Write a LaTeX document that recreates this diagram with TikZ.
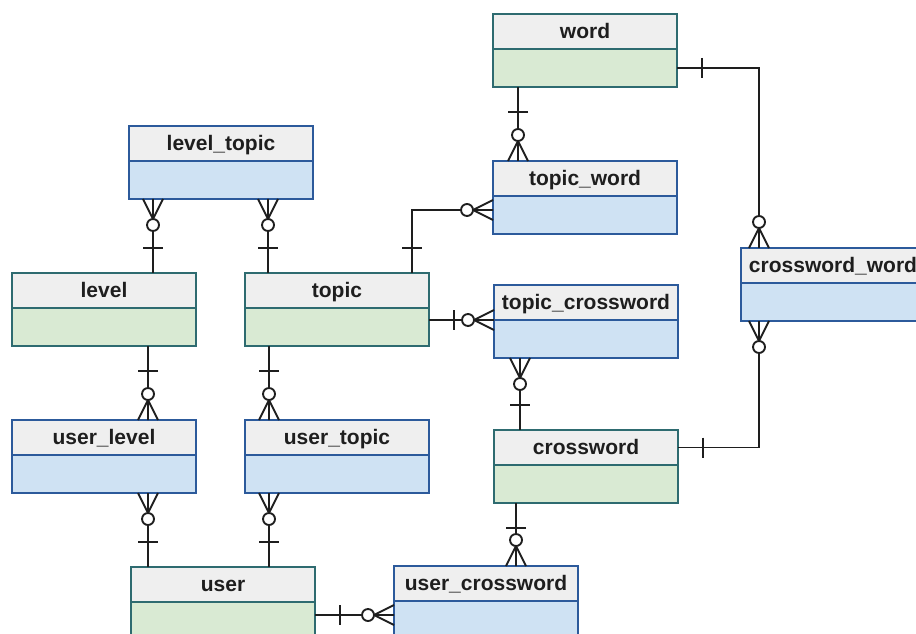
\documentclass[tikz,border=0pt]{standalone}
\usepackage{fontspec}
\setmainfont{Liberation Sans}
\usetikzlibrary{positioning}

\definecolor{headgray}{RGB}{239,239,239}
\definecolor{bodygreen}{RGB}{217,234,211}
\definecolor{bodyblue}{RGB}{207,226,243}
\definecolor{grline}{RGB}{46,107,112}
\definecolor{blline}{RGB}{44,90,155}
\definecolor{linkcol}{RGB}{30,30,30}

\tikzset{every picture/.style={line width=1.4pt}}
\tikzset{
  head/.style={draw, rectangle, anchor=north west, inner sep=0pt, outer sep=0pt,
    minimum width=138pt, minimum height=26.25pt, fill=headgray,
    text height=12.2pt, text depth=2pt,
    text=linkcol, font=\fontsize{15.75}{18}\selectfont\bfseries},
  gbody/.style={draw=grline, rectangle, fill=bodygreen, inner sep=0pt, outer sep=0pt,
    minimum width=138pt, minimum height=28.5pt},
  bbody/.style={draw=blline, rectangle, fill=bodyblue, inner sep=0pt, outer sep=0pt,
    minimum width=138pt, minimum height=28.5pt},
  link/.style={draw=linkcol}
}

% crow's foot ends: #1 = point on the box, #2 = direction away from the box
\newcommand{\onebar}[2]{\draw[link, shift={(#1)}, rotate=#2] (25,-10) -- (25,10);}
\newcommand{\zeromany}[2]{%
  \draw[link, shift={(#1)}, rotate=#2] (0,-10) -- (20,0) -- (0,10) (0,0) -- (20,0);
  \draw[link, fill=white, shift={(#1)}, rotate=#2] (26,0) circle (6);}

\begin{document}
\begin{tikzpicture}[x=0.75pt,y=0.75pt,yscale=-1,xscale=1]
\useasboundingbox (0,0) rectangle (916,634);
\clip (0,0) rectangle (916,634);

%Entities
\node[head, draw=grline] (word) at (493,14) {word};
\node[gbody] (wordb) [below=0pt of word] {};
\node[head, draw=blline] (topicword) at (493,161) {topic\_word};
\node[bbody] (topicwordb) [below=0pt of topicword] {};
\node[head, draw=blline] (leveltopic) at (129,126) {level\_topic};
\node[bbody] (leveltopicb) [below=0pt of leveltopic] {};
\node[head, draw=grline] (level) at (12,273) {level};
\node[gbody] (levelb) [below=0pt of level] {};
\node[head, draw=grline] (topic) at (245,273) {topic};
\node[gbody] (topicb) [below=0pt of topic] {};
\node[head, draw=blline] (topiccrossword) at (494,285) {topic\_crossword};
\node[bbody] (topiccrosswordb) [below=0pt of topiccrossword] {};
\node[head, draw=blline] (crosswordword) at (741,248) {crossword\_word};
\node[bbody] (crosswordwordb) [below=0pt of crosswordword] {};
\node[head, draw=blline] (userlevel) at (12,420) {user\_level};
\node[bbody] (userlevelb) [below=0pt of userlevel] {};
\node[head, draw=blline] (usertopic) at (245,420) {user\_topic};
\node[bbody] (usertopicb) [below=0pt of usertopic] {};
\node[head, draw=grline] (crossword) at (494,430) {crossword};
\node[gbody] (crosswordb) [below=0pt of crossword] {};
\node[head, draw=grline] (user) at (131,567) {user};
\node[gbody] (userb) [below=0pt of user] {};
\node[head, draw=blline] (usercrossword) at (394,566) {user\_crossword};
\node[bbody] (usercrosswordb) [below=0pt of usercrossword] {};

%Relations
\draw[link] (wordb.south -| 518,0) -- (topicword.north -| 518,0);
\onebar{wordb.south -| 518,0}{90}
\zeromany{topicword.north -| 518,0}{270}

\draw[link] (wordb.east) -| (crosswordword.north -| 759,0);
\onebar{wordb.east}{0}
\zeromany{crosswordword.north -| 759,0}{270}

\draw[link] (crossword.east) -| (crosswordwordb.south -| 759,0);
\onebar{crossword.east}{0}
\zeromany{crosswordwordb.south -| 759,0}{90}

\draw[link] (topic.north -| 412,0) |- (topicwordb.west |- 0,210);
\onebar{topic.north -| 412,0}{270}
\zeromany{topicwordb.west |- 0,210}{180}

\draw[link] (topicb.east |- topiccrossword.south west) -- (topiccrossword.south west);
\onebar{topicb.east |- topiccrossword.south west}{0}
\zeromany{topiccrossword.south west}{180}

\draw[link] (topiccrosswordb.south -| 520,0) -- (crossword.north -| 520,0);
\zeromany{topiccrosswordb.south -| 520,0}{90}
\onebar{crossword.north -| 520,0}{270}

\draw[link] (leveltopicb.south -| 153,0) -- (level.north -| 153,0);
\zeromany{leveltopicb.south -| 153,0}{90}
\onebar{level.north -| 153,0}{270}

\draw[link] (leveltopicb.south -| 268,0) -- (topic.north -| 268,0);
\zeromany{leveltopicb.south -| 268,0}{90}
\onebar{topic.north -| 268,0}{270}

\draw[link] (levelb.south -| 148,0) -- (userlevel.north -| 148,0);
\onebar{levelb.south -| 148,0}{90}
\zeromany{userlevel.north -| 148,0}{270}

\draw[link] (topicb.south -| 269,0) -- (usertopic.north -| 269,0);
\onebar{topicb.south -| 269,0}{90}
\zeromany{usertopic.north -| 269,0}{270}

\draw[link] (userlevelb.south -| 148,0) -- (user.north -| 148,0);
\zeromany{userlevelb.south -| 148,0}{90}
\onebar{user.north -| 148,0}{270}

\draw[link] (usertopicb.south -| 269,0) -- (user.north -| 269,0);
\zeromany{usertopicb.south -| 269,0}{90}
\onebar{user.north -| 269,0}{270}

\draw[link] (crosswordb.south -| 516,0) -- (usercrossword.north -| 516,0);
\onebar{crosswordb.south -| 516,0}{90}
\zeromany{usercrossword.north -| 516,0}{270}

\draw[link] (userb.east |- 0,615) -- (usercrosswordb.west |- 0,615);
\onebar{userb.east |- 0,615}{0}
\zeromany{usercrosswordb.west |- 0,615}{180}

\end{tikzpicture}
\end{document}
